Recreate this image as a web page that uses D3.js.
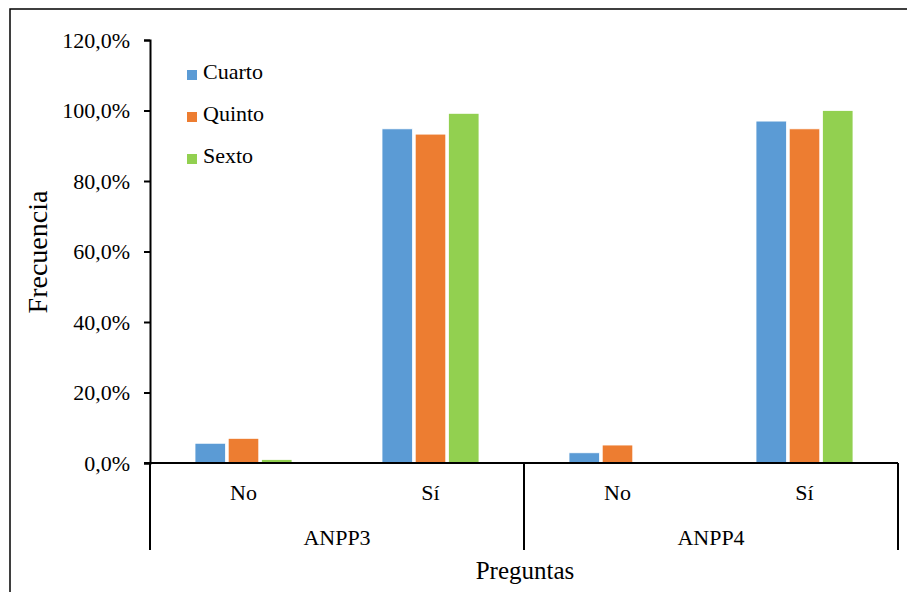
<!DOCTYPE html>
<html>
<head>
<meta charset="utf-8">
<script src="https://cdn.jsdelivr.net/npm/d3@7/dist/d3.min.js"></script>
<style>
  html, body { margin: 0; padding: 0; background: #fff; }
  svg { display: block; }
  text { font-family: "Liberation Serif", "Times New Roman", serif; fill: #000; }
</style>
</head>
<body>
<svg id="chart" width="907" height="592"></svg>
<script>
// Response shares per question and answer, by grade
const groups = ["ANPP3", "ANPP4"];
const answers = ["No", "Sí"];
const series = ["Cuarto", "Quinto", "Sexto"];
const colors = ["#5B9BD5", "#ED7D31", "#92D050"];
const cuarto = [0.056, 0.948, 0.029, 0.970];
const quinto = [0.070, 0.933, 0.051, 0.948];
const sexto  = [0.010, 0.992, 0.000, 1.000];
const yTicks = [0, 0.2, 0.4, 0.6, 0.8, 1.0, 1.2];

const values = [cuarto, quinto, sexto];
const categories = [];
groups.forEach(g => answers.forEach(a => categories.push({ key: g + "|" + a, group: g, answer: a })));

const svg = d3.select("#chart");
const plotLeft = 150, plotRight = 898, plotTop = 40, plotBottom = 463, axisLow = 550;
const serif = '"Liberation Serif", "Times New Roman", serif';

// frame around the whole chart area
svg.append("rect")
  .attr("x", 10).attr("y", 9).attr("width", 920).attr("height", 620)
  .attr("fill", "none").attr("stroke", "#000").attr("stroke-width", 1.5);

const x0 = d3.scaleBand().domain(categories.map(c => c.key)).range([plotLeft, plotRight]);
const bw = x0.bandwidth();
const x1 = d3.scaleBand().domain(series).range([bw / 2 - 48.5, bw / 2 + 48.5]).paddingInner(0.08);
const y = d3.scaleLinear().domain([0, 1.2]).range([plotBottom, plotTop]);

const loc = d3.formatLocale({ decimal: ",", thousands: ".", grouping: [3], currency: ["", " €"] });
const pct = loc.format(".1%");

// y axis
const yAxis = svg.append("g")
  .attr("transform", `translate(${plotLeft},0)`)
  .call(d3.axisLeft(y).tickValues(yTicks).tickFormat(pct).tickSize(6).tickPadding(14));
yAxis.attr("font-family", null);
yAxis.select(".domain").attr("stroke", "#000").attr("stroke-width", 2);
yAxis.selectAll(".tick line").attr("stroke", "#000").attr("stroke-width", 2);
yAxis.selectAll(".tick text")
  .style("font-family", serif)
  .style("font-size", "22px").attr("fill", "#000");

// bars
const catG = svg.append("g").selectAll("g")
  .data(categories)
  .join("g")
  .attr("transform", c => `translate(${x0(c.key)},0)`);

catG.selectAll("rect")
  .data((c, ci) => series.map((s, si) => ({ s, si, v: values[si][ci] })))
  .join("rect")
  .attr("x", d => x1(d.s))
  .attr("width", x1.bandwidth())
  .attr("y", d => y(d.v))
  .attr("height", d => y(0) - y(d.v))
  .attr("fill", d => colors[d.si])
  .attr("stroke", "#fff").attr("stroke-width", 0.8);

// category axis line
svg.append("line")
  .attr("x1", plotLeft - 6).attr("x2", plotRight).attr("y1", y(0)).attr("y2", y(0))
  .attr("stroke", "#000").attr("stroke-width", 2);

// group separators
const sepX = [plotLeft].concat(groups.map(g => x0(g + "|" + answers[answers.length - 1]) + bw));
svg.append("g").selectAll("line")
  .data(sepX)
  .join("line")
  .attr("x1", d => d).attr("x2", d => d)
  .attr("y1", y(0)).attr("y2", axisLow)
  .attr("stroke", "#000").attr("stroke-width", 2);

// answer labels
svg.append("g").selectAll("text")
  .data(categories)
  .join("text")
  .attr("x", c => x0(c.key) + bw / 2)
  .attr("y", 500)
  .attr("text-anchor", "middle")
  .style("font-family", serif)
  .style("font-size", "22px")
  .text(c => c.answer);

// group labels
svg.append("g").selectAll("text")
  .data(groups)
  .join("text")
  .attr("x", g => (x0(g + "|" + answers[0]) + x0(g + "|" + answers[answers.length - 1]) + bw) / 2)
  .attr("y", 545)
  .attr("text-anchor", "middle")
  .style("font-family", serif)
  .style("font-size", "22px")
  .text(g => g);

// axis titles
svg.append("text")
  .attr("x", (plotLeft + plotRight) / 2 + 1).attr("y", 579)
  .attr("text-anchor", "middle")
  .style("font-family", serif)
  .style("font-size", "25px")
  .text("Preguntas");

svg.append("text")
  .attr("transform", `translate(47,252) rotate(-90)`)
  .attr("text-anchor", "middle")
  .style("font-family", serif)
  .style("font-size", "28px")
  .text("Frecuencia");

// legend
const leg = svg.append("g").selectAll("g")
  .data(series)
  .join("g")
  .attr("transform", (s, i) => `translate(187,${70 + i * 42})`);
leg.append("rect")
  .attr("width", 10).attr("height", 10)
  .attr("fill", (s, i) => colors[i]);
leg.append("text")
  .attr("x", 16).attr("y", 9)
  .style("font-family", serif)
  .style("font-size", "22px")
  .text(s => s);
</script>
</body>
</html>
